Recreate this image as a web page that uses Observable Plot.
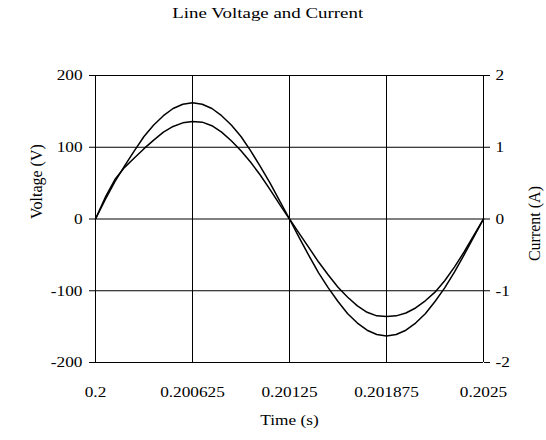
<!DOCTYPE html>
<html>
<head>
<meta charset="utf-8">
<script src="https://cdn.jsdelivr.net/npm/d3@7"></script>
<script src="https://cdn.jsdelivr.net/npm/@observablehq/plot@0.6"></script>
<style>
  html, body { margin: 0; padding: 0; background: white; }
  #title { width: 546px; height: 40px; box-sizing: border-box; padding-top: 4px; padding-right: 10px;
           font: 15px "Liberation Serif", serif; line-height: 18px; text-align: center; color: black; }
  #title span { display: inline-block; transform: scaleX(1.26); }
</style>
</head>
<body>
<div id="title"><span>Line Voltage and Current</span></div>
<div id="chart"></div>
<script>
const titleText = "Line Voltage and Current";
const xLabel = "Time (s)";
const yLeftLabel = "Voltage (V)";
const yRightLabel = "Current (A)";

const time = [0.2, 0.2000625, 0.200125, 0.2001875, 0.20025, 0.2003125, 0.200375, 0.2004375, 0.2005, 0.2005625,
  0.200625, 0.2006875, 0.20075, 0.2008125, 0.200875, 0.2009375, 0.201, 0.2010625, 0.201125, 0.2011875,
  0.20125, 0.2013125, 0.201375, 0.2014375, 0.2015, 0.2015625, 0.201625, 0.2016875, 0.20175, 0.2018125,
  0.201875, 0.2019375, 0.202, 0.2020625, 0.202125, 0.2021875, 0.20225, 0.2023125, 0.202375, 0.2024375, 0.2025];

const voltage = [0, 27, 52, 74, 95, 115, 131, 144, 154, 160,
  162, 160, 154, 144, 131, 115, 95, 73, 50, 25,
  0, -26, -51, -75, -96, -115, -132, -145, -155, -161,
  -163, -161, -155, -145, -132, -115, -96, -74, -50, -25, 0];

const current = [0, 0.30, 0.55, 0.72, 0.85, 0.98, 1.10, 1.21, 1.29, 1.34,
  1.36, 1.35, 1.30, 1.21, 1.09, 0.95, 0.79, 0.61, 0.41, 0.20,
  0, -0.20, -0.40, -0.60, -0.78, -0.95, -1.09, -1.21, -1.30, -1.35,
  -1.36, -1.35, -1.31, -1.24, -1.14, -1.02, -0.86, -0.67, -0.46, -0.23, 0];

const xTicks = [0.2, 0.200625, 0.20125, 0.201875, 0.2025];
const xTickLabels = ["0.2", "0.200625", "0.20125", "0.201875", "0.2025"];
const yTicks = [-200, -100, 0, 100, 200];
const voltageTickLabels = ["-200", "-100", "0", "100", "200"];
const currentTickLabels = ["-2", "-1", "0", "1", "2"];
const currentToVoltageScale = 100; // right axis: 1 A aligned with 100 V

const voltageRows = time.map((t, i) => ({t, v: voltage[i]}));
const currentRows = time.map((t, i) => ({t, a: current[i]}));

const chart = Plot.plot({
  width: 546,
  height: 400,
  marginLeft: 95,
  marginRight: 63,
  marginTop: 35,
  marginBottom: 78,
  style: {fontFamily: "'Liberation Serif', serif", fontSize: "15px", color: "black", background: "white"},
  x: {domain: [0.2, 0.2025]},
  y: {domain: [-200, 200]},
  marks: [
    Plot.gridX(xTicks, {stroke: "black", strokeOpacity: 1}),
    Plot.gridY(yTicks, {stroke: "black", strokeOpacity: 1}),
    Plot.axisX(xTicks, {tickSize: 0, tickPadding: 24, label: null, fontSize: 15, tickFormat: (d, i) => xTickLabels[i]}),
    Plot.axisY(yTicks, {anchor: "left", tickSize: 6, tickPadding: 7, label: null, fontSize: 15, tickFormat: (d, i) => voltageTickLabels[i]}),
    Plot.axisY(yTicks, {anchor: "right", tickSize: 6, tickPadding: 6, label: null, fontSize: 15, tickFormat: (d, i) => currentTickLabels[i]}),
    Plot.line(voltageRows, {x: "t", y: "v", stroke: "black", strokeWidth: 1.5}),
    Plot.line(currentRows, {x: "t", y: d => d.a * currentToVoltageScale, stroke: "black", strokeWidth: 1.5}),
    Plot.text([xLabel], {text: d => d, frameAnchor: "bottom", dy: 62, fontSize: 15}),
    Plot.text([yLeftLabel], {text: d => d, frameAnchor: "left", dx: -59, rotate: -90, fontSize: 16}),
    Plot.text([yRightLabel], {text: d => d, frameAnchor: "right", dx: 51, dy: -33, rotate: -90, fontSize: 16})
  ]
});
document.getElementById("chart").append(chart);

// the reference renders its serif text slightly stretched horizontally
for (const t of chart.querySelectorAll("text")) {
  const tr = t.getAttribute("transform") || "";
  if (tr.includes("rotate")) continue;
  const len = t.getComputedTextLength();
  if (len > 0) {
    t.setAttribute("textLength", len * 1.15);
    t.setAttribute("lengthAdjust", "spacingAndGlyphs");
  }
}
</script>
</body>
</html>
